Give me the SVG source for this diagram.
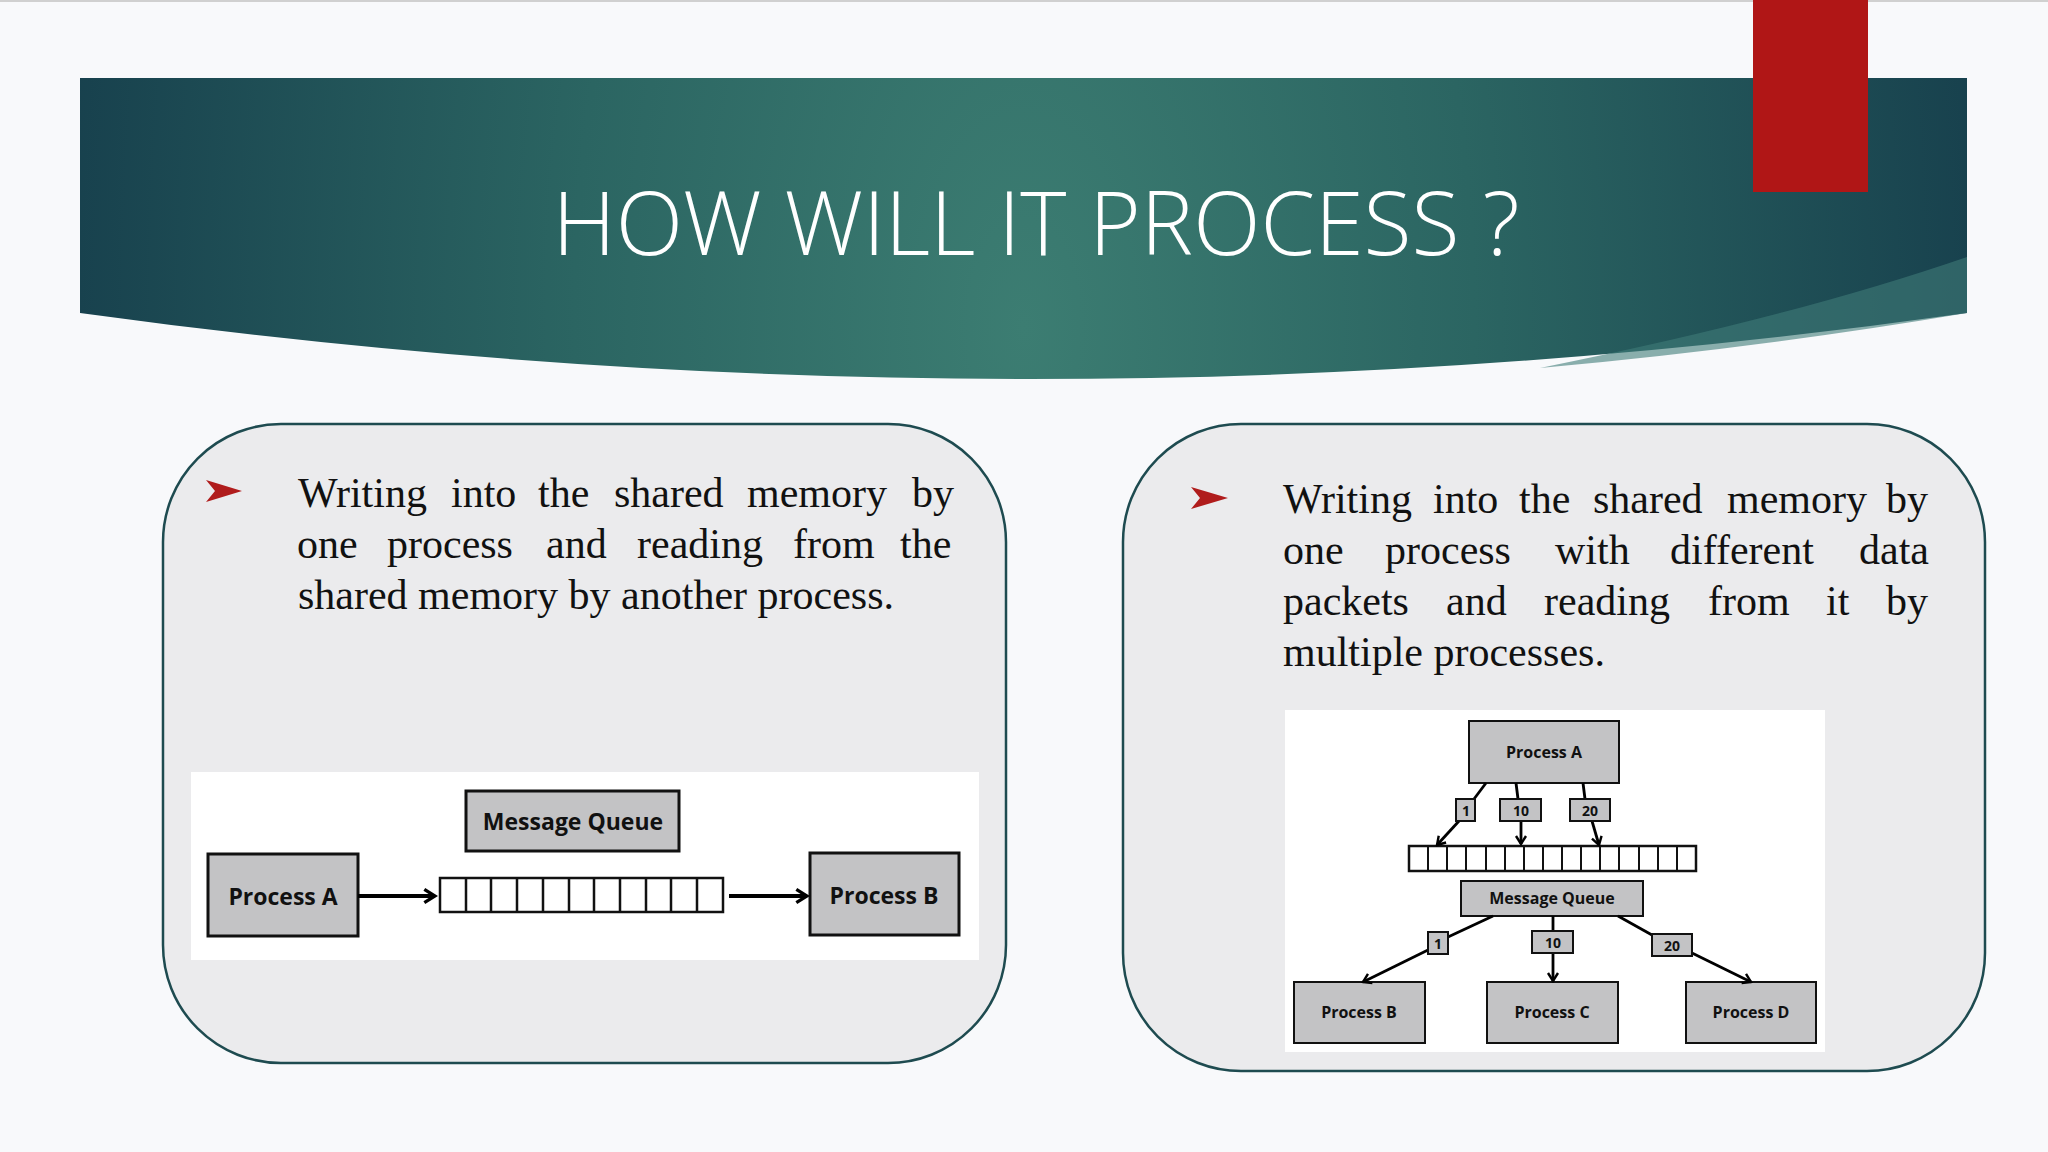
<svg xmlns="http://www.w3.org/2000/svg" width="2048" height="1152" viewBox="0 0 2048 1152">
<defs>
<radialGradient id="hg" cx="1024" cy="330" r="1000" gradientUnits="userSpaceOnUse" gradientTransform="translate(0,-300) scale(1,1.9)">
<stop offset="0" stop-color="#3c7d72"/><stop offset="0.45" stop-color="#2b6562"/><stop offset="1" stop-color="#163e4c"/>
</radialGradient>
<marker id="ah" viewBox="0 0 12 12" refX="10" refY="6" markerWidth="16" markerHeight="18" markerUnits="userSpaceOnUse" orient="auto">
<path d="M2,1 L10,6 L2,11" fill="none" stroke="#000" stroke-width="2.5"/>
</marker>
<marker id="ah2" viewBox="0 0 12 12" refX="10" refY="6" markerWidth="12" markerHeight="14" markerUnits="userSpaceOnUse" orient="auto">
<path d="M2,1 L10,6 L2,11" fill="none" stroke="#000" stroke-width="2.4"/>
</marker>
</defs>
<style>
.panel{fill:#ebebed;stroke:#1e4b50;stroke-width:2.5}
.body{font-family:"Liberation Serif",serif;font-size:42px;fill:#111}
.box{fill:#c3c3c5;stroke:#111;stroke-width:3}
.box2{fill:#c3c3c5;stroke:#111;stroke-width:2}
.bl{font-family:"Open Sans","Liberation Sans",sans-serif;font-weight:700;fill:#111;text-anchor:middle}
.cell{fill:#fff;stroke:#111;stroke-width:2.5}
.ln{stroke:#000;stroke-width:4;fill:none}
.ln2{stroke:#000;stroke-width:2.8;fill:none}
.bul{fill:#b01c1c}
</style>
<rect width="2048" height="1152" fill="#f8f9fb"/>
<line x1="0" y1="1" x2="2048" y2="1" stroke="#d0d0d0" stroke-width="2"/>
<g id="header">
<path d="M80,78 H1967 V313 Q1036,445 80,313 Z" fill="url(#hg)"/>
<path d="M1540,368 Q1790,318 1967,257 V313 Q1760,348 1540,368 Z" fill="#3f7b78" opacity="0.6"/>
<rect x="1753" y="0" width="115" height="192" fill="#b01616"/>
<text x="1036" y="255" font-family="Open Sans,Liberation Sans,sans-serif" font-weight="300" font-size="88" fill="#fff" text-anchor="middle">HOW WILL IT PROCESS ?</text>
</g>
<g id="left-panel">
<rect class="panel" x="163" y="424" width="843" height="639" rx="118"/>
<path class="bul" d="M206,480 L242,491 L206,502 L215,491 Z"/>
<text class="body" y="507"><tspan x="298">Writing</tspan><tspan x="451">into</tspan><tspan x="538">the</tspan><tspan x="614">shared</tspan><tspan x="747">memory</tspan><tspan x="912">by</tspan></text>
<text class="body" y="558"><tspan x="297">one</tspan><tspan x="387">process</tspan><tspan x="546">and</tspan><tspan x="637">reading</tspan><tspan x="793">from</tspan><tspan x="900">the</tspan></text>
<text class="body" x="298" y="609">shared memory by another process.</text>
<rect x="191" y="772" width="788" height="188" fill="#fff"/>
</g>
<g id="right-panel">
<rect class="panel" x="1123" y="424" width="862" height="647" rx="118"/>
<path class="bul" d="M1191,487 L1228,498 L1191,509 L1200,498 Z"/>
<text class="body" y="513"><tspan x="1283">Writing</tspan><tspan x="1433">into</tspan><tspan x="1519">the</tspan><tspan x="1593">shared</tspan><tspan x="1727">memory</tspan><tspan x="1886">by</tspan></text>
<text class="body" y="564"><tspan x="1283">one</tspan><tspan x="1385">process</tspan><tspan x="1555">with</tspan><tspan x="1670">different</tspan><tspan x="1859">data</tspan></text>
<text class="body" y="615"><tspan x="1283">packets</tspan><tspan x="1446">and</tspan><tspan x="1544">reading</tspan><tspan x="1708">from</tspan><tspan x="1826">it</tspan><tspan x="1886">by</tspan></text>
<text class="body" x="1283" y="666">multiple processes.</text>
<rect x="1285" y="710" width="540" height="342" fill="#fff"/>
</g>
<g id="L-processA"><rect class="box" x="208" y="854" width="150" height="82"/><text class="bl" x="283" y="905" font-size="23">Process A</text></g>
<g id="L-mq"><rect class="box" x="466" y="791" width="213" height="60"/><text class="bl" x="573" y="830" font-size="23">Message Queue</text></g>
<g id="L-queue">
<rect class="cell" x="440" y="878" width="283" height="34"/>
<path d="M466,878V912M491,878V912M517,878V912M543,878V912M569,878V912M594,878V912M620,878V912M646,878V912M671,878V912M697,878V912" stroke="#111" stroke-width="2.5"/>
</g>
<g id="L-processB"><rect class="box" x="810" y="853" width="149" height="82"/><text class="bl" x="884" y="904" font-size="23">Process B</text></g>
<g id="R-processA"><rect class="box2" x="1469" y="721" width="150" height="62"/><text class="bl" x="1544" y="758" font-size="16">Process A</text></g>
<g id="R-queue">
<rect class="cell" x="1409" y="846" width="287" height="25" stroke-width="2"/>
<path d="M1428,846V871M1447,846V871M1466,846V871M1486,846V871M1505,846V871M1524,846V871M1543,846V871M1562,846V871M1581,846V871M1600,846V871M1619,846V871M1639,846V871M1658,846V871M1677,846V871" stroke="#111" stroke-width="2"/>
</g>
<g id="R-mq"><rect class="box2" x="1461" y="881" width="182" height="35"/><text class="bl" x="1552" y="904" font-size="16">Message Queue</text></g>
<g id="R-processB"><rect class="box2" x="1294" y="982" width="131" height="61"/><text class="bl" x="1359" y="1018" font-size="16">Process B</text></g>
<g id="R-processC"><rect class="box2" x="1487" y="982" width="131" height="61"/><text class="bl" x="1552" y="1018" font-size="16">Process C</text></g>
<g id="R-processD"><rect class="box2" x="1686" y="982" width="130" height="61"/><text class="bl" x="1751" y="1018" font-size="16">Process D</text></g>
<g id="connectors">
<line class="ln" x1="358" y1="896" x2="435" y2="896" marker-end="url(#ah)"/>
<line class="ln" x1="729" y1="896" x2="807" y2="896" marker-end="url(#ah)"/>
<line class="ln2" x1="1486" y1="783" x2="1474" y2="799"/>
<line class="ln2" x1="1459" y1="821" x2="1437" y2="845" marker-end="url(#ah2)"/>
<line class="ln2" x1="1516" y1="783" x2="1518" y2="799"/>
<line class="ln2" x1="1521" y1="821" x2="1521" y2="844" marker-end="url(#ah2)"/>
<line class="ln2" x1="1583" y1="783" x2="1585" y2="799"/>
<line class="ln2" x1="1592" y1="821" x2="1599" y2="845" marker-end="url(#ah2)"/>
<line class="ln2" x1="1493" y1="916" x2="1448" y2="937"/>
<line class="ln2" x1="1428" y1="950" x2="1363" y2="982" marker-end="url(#ah2)"/>
<line class="ln2" x1="1553" y1="916" x2="1553" y2="931"/>
<line class="ln2" x1="1553" y1="953" x2="1553" y2="981" marker-end="url(#ah2)"/>
<line class="ln2" x1="1618" y1="916" x2="1652" y2="935"/>
<line class="ln2" x1="1692" y1="953" x2="1751" y2="982" marker-end="url(#ah2)"/>
<g class="lab">
<rect class="box2" x="1456" y="799" width="19" height="22"/><text class="bl" x="1466" y="816" font-size="14">1</text>
<rect class="box2" x="1500" y="799" width="41" height="22"/><text class="bl" x="1521" y="816" font-size="14">10</text>
<rect class="box2" x="1570" y="799" width="40" height="22"/><text class="bl" x="1590" y="816" font-size="14">20</text>
<rect class="box2" x="1428" y="932" width="20" height="22"/><text class="bl" x="1438" y="949" font-size="14">1</text>
<rect class="box2" x="1532" y="931" width="41" height="22"/><text class="bl" x="1553" y="948" font-size="14">10</text>
<rect class="box2" x="1652" y="934" width="40" height="22"/><text class="bl" x="1672" y="951" font-size="14">20</text>
</g>
</g>
</svg>
